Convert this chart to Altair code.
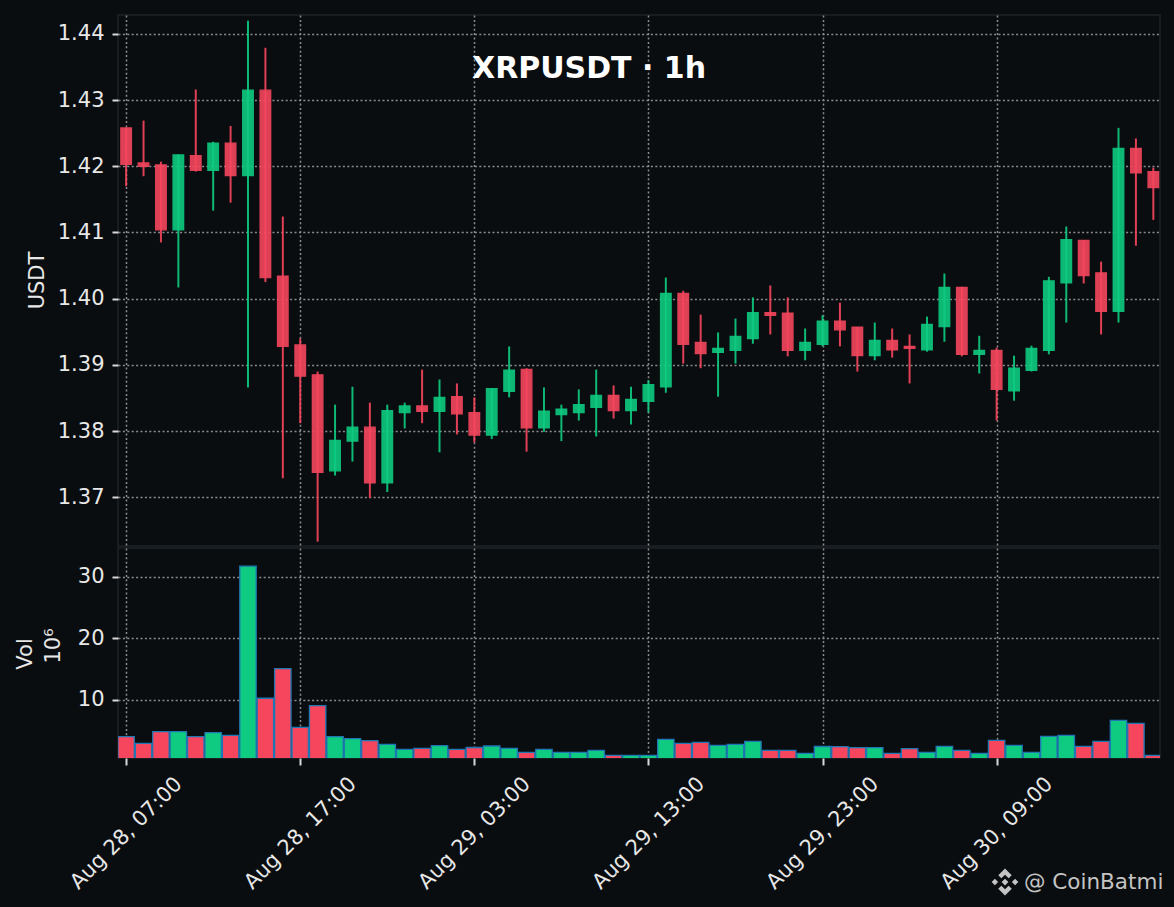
import altair as alt
import pandas as pd

opens = [1.4258,1.4205,1.4202,1.4104,1.4216,1.4194,1.4235,1.4186,1.4315,1.4034,
         1.3930,1.3885,1.3740,1.3785,1.3806,1.3722,1.3828,1.3838,1.3830,1.3852,
         1.3828,1.3794,1.3860,1.3893,1.3805,1.3825,1.3828,1.3836,1.3854,1.3831,
         1.3845,1.3867,1.4008,1.3934,1.3919,1.3922,1.3940,1.3979,1.3978,1.3922,
         1.3931,1.3966,1.3957,1.3914,1.3937,1.3928,1.3923,1.3958,1.4017,1.3916,
         1.3922,1.3861,1.3892,1.3922,1.4024,1.4088,1.4039,1.3981,1.4227,1.4192]
highs = [1.4258,1.4269,1.4207,1.4218,1.4316,1.4237,1.4261,1.4420,1.4379,1.4124,
         1.3940,1.3890,1.3840,1.3867,1.3843,1.3840,1.3843,1.3893,1.3878,1.3872,
         1.3851,1.3864,1.3928,1.3895,1.3866,1.3840,1.3863,1.3893,1.3869,1.3867,
         1.3877,1.4032,1.4012,1.3976,1.3949,1.3970,1.4002,1.4020,1.4002,1.3955,
         1.3975,1.3994,1.3957,1.3964,1.3955,1.3946,1.3973,1.4038,1.4018,1.3944,
         1.3926,1.3914,1.3929,1.4033,1.4109,1.4088,1.4056,1.4258,1.4242,1.4198]
lows = [1.4170,1.4185,1.4085,1.4017,1.4192,1.4133,1.4145,1.3866,1.4025,1.3729,
        1.3812,1.3633,1.3733,1.3754,1.3699,1.3708,1.3804,1.3812,1.3768,1.3795,
        1.3783,1.3788,1.3851,1.3769,1.3799,1.3785,1.3816,1.3792,1.3819,1.3810,
        1.3828,1.3858,1.3902,1.3895,1.3852,1.3902,1.3932,1.3946,1.3913,1.3907,
        1.3928,1.3928,1.3890,1.3907,1.3911,1.3872,1.3920,1.3935,1.3913,1.3887,
        1.3816,1.3846,1.3890,1.3916,1.3964,1.4023,1.3946,1.3964,1.4080,1.4119]
closes = [1.4203,1.4200,1.4104,1.4217,1.4194,1.4235,1.4186,1.4315,1.4032,1.3928,
          1.3883,1.3738,1.3786,1.3806,1.3722,1.3831,1.3838,1.3830,1.3851,1.3826,
          1.3794,1.3864,1.3892,1.3805,1.3830,1.3833,1.3840,1.3854,1.3831,1.3848,
          1.3870,1.4008,1.3931,1.3917,1.3925,1.3943,1.3979,1.3975,1.3922,1.3934,
          1.3966,1.3953,1.3914,1.3937,1.3923,1.3925,1.3961,1.4017,1.3916,1.3922,
          1.3863,1.3895,1.3925,1.4027,1.4089,1.4035,1.3981,1.4227,1.4190,1.4168]
volumes = [4.03,2.96,4.85,4.85,4.03,4.68,4.26,31.74,10.28,15.09,
           5.56,9.07,4.03,3.71,3.38,2.80,1.98,2.15,2.57,1.98,
           2.28,2.52,2.15,1.50,1.98,1.50,1.50,1.82,1.00,1.00,
           1.00,3.60,2.96,3.12,2.63,2.80,3.28,1.82,1.82,1.33,
           2.44,2.41,2.24,2.24,1.33,2.08,1.50,2.47,1.82,1.33,
           3.45,2.63,1.50,4.10,4.26,2.47,3.28,6.70,6.21,1.00]
start_hour = "2026-08-28T07:00:00"
price_ticks = [1.37, 1.38, 1.39, 1.40, 1.41, 1.42, 1.43, 1.44]
volume_ticks = [10, 20, 30]
title_text = "XRPUSDT · 1h"
price_label = "USDT"
volume_labels = ["Vol", "10⁶"]
watermark_text = "@ CoinBatmi"

BG = "#0a0d10"
GREEN = "#0ecb81"
RED = "#f6465d"
BORDER = "#1e2329"
GRID = "#8c8c8c"
LABEL = "#e8e8e8"
FONT = "DejaVu Sans"

times = pd.date_range(start_hour, periods=len(opens), freq="h")
df = pd.DataFrame({"time": times, "open": opens, "high": highs, "low": lows,
                   "close": closes, "volume": volumes})
df["dir"] = ["up" if c >= o else "down" for o, c in zip(opens, closes)]

tick_dates = [alt.DateTime(year=2026, month=8, date=28, hours=7),
              alt.DateTime(year=2026, month=8, date=28, hours=17),
              alt.DateTime(year=2026, month=8, date=29, hours=3),
              alt.DateTime(year=2026, month=8, date=29, hours=13),
              alt.DateTime(year=2026, month=8, date=29, hours=23),
              alt.DateTime(year=2026, month=8, date=30, hours=9)]
x_scale = alt.Scale(domain=[alt.DateTime(year=2026, month=8, date=28, hours=6, minutes=32),
                            alt.DateTime(year=2026, month=8, date=30, hours=18, minutes=23)],
                    padding=0)
grid_kw = dict(grid=True, gridColor=GRID, gridDash=[2, 2.4], gridWidth=1.5, gridOpacity=1)
x_top = alt.X("time:T", scale=x_scale,
              axis=alt.Axis(values=tick_dates, labels=False, ticks=False, domain=False,
                            title=None, **grid_kw))
x_bottom = alt.X("time:T", scale=x_scale,
                 axis=alt.Axis(values=tick_dates, format="%b %d, %H:%M", title=None, domain=False,
                               labelAngle=-45, labelAlign="center", labelBaseline="middle",
                               labelPadding=68, labelFontSize=21, labelColor=LABEL, labelFont=FONT,
                               labelOverlap=False, labelFlush=False, labelBound=False,
                               tickColor="#d8d8d8", tickSize=7, tickWidth=2, **grid_kw))
color = alt.Color("dir:N", scale=alt.Scale(domain=["up", "down"], range=[GREEN, RED]), legend=None)

y_price = alt.Y("low:Q", scale=alt.Scale(domain=[1.36265, 1.44285], nice=False, zero=False),
                axis=alt.Axis(values=price_ticks, format=".2f", title=price_label, domain=False,
                              titleColor=LABEL, titleFont=FONT, titleFontSize=21, titleFontWeight="normal",
                              titleX=-71, titleY=265, titleAngle=270,
                              labelFontSize=21, labelColor=LABEL, labelFont=FONT, labelPadding=8,
                              tickColor="#d8d8d8", tickSize=6, tickWidth=2, **grid_kw))

base = alt.Chart(df)
wicks = base.mark_rule(strokeWidth=2, opacity=0.9).encode(x=x_top, y=y_price, y2="high:Q", color=color)
bodies = base.mark_bar(size=10.5, strokeWidth=1.4, opacity=0.9).encode(
    x=x_top, y=alt.Y("open:Q"), y2="close:Q", color=color, stroke=alt.Stroke("dir:N",
        scale=alt.Scale(domain=["up", "down"], range=[GREEN, RED]), legend=None))
title = alt.Chart(pd.DataFrame({"t": [title_text]})).mark_text(
    font=FONT, fontSize=30, fontWeight="bold", color="#ffffff", align="left", baseline="middle"
).encode(x=alt.value(354), y=alt.value(54), text="t:N")
price_panel = alt.layer(wicks, bodies, title).properties(width=1042, height=531)

y_vol = alt.Y("volume:Q", scale=alt.Scale(domain=[0.57, 34.7], nice=False, zero=False),
              axis=alt.Axis(values=volume_ticks, title=None, domain=False,
                            labelFontSize=21, labelColor=LABEL, labelFont=FONT, labelPadding=8,
                            tickColor="#d8d8d8", tickSize=6, tickWidth=2, **grid_kw))
bars = base.mark_bar(size=16.4, stroke="#1f77b4", strokeWidth=1.3, clip=True).encode(
    x=x_bottom, y=y_vol, y2=alt.Y2(datum=0.0), color=color)


def side_text(text, xpos, ypos):
    return alt.Chart(pd.DataFrame({"t": [text]})).mark_text(
        font=FONT, fontSize=21, color=LABEL, angle=270, align="center", baseline="middle"
    ).encode(x=alt.value(xpos), y=alt.value(ypos), text="t:N")


logo_path = ("M0 -1L.5 -.5L.27 -.27L0 -.54L-.27 -.27L-.5 -.5Z"
             "M0 1L.5 .5L.27 .27L0 .54L-.27 .27L-.5 .5Z"
             "M0 -.25L.25 0L0 .25L-.25 0Z"
             "M-.75 -.24L-.51 0L-.75 .24L-.99 0Z"
             "M.75 -.24L.99 0L.75 .24L.51 0Z")
wm_df = pd.DataFrame({"t": [watermark_text]})
logo = alt.Chart(wm_df).mark_point(shape=logo_path, filled=True, color="#c4c4c4", opacity=1, size=729,
                                   clip=False).encode(x=alt.value(887), y=alt.value(334))
wm = alt.Chart(wm_df).mark_text(font=FONT, fontSize=21.5, color="#c4c4c4", align="left", baseline="middle").encode(
    x=alt.value(906), y=alt.value(335), text="t:N")

vol_panel = alt.layer(bars, side_text(volume_labels[0], -92, 106), side_text(volume_labels[1], -64, 98), logo, wm
                      ).properties(width=1042, height=210)

chart = alt.vconcat(price_panel, vol_panel, spacing=0, background=BG,
                    padding={"left": 6, "top": 6, "right": 0, "bottom": 0}
                    ).configure_view(stroke=BORDER, strokeWidth=1.5)
chart.save("out.html", embed_options={"renderer": "svg", "actions": False,
                                      "defaultStyle": "html,body{background:#0a0d10}"})
